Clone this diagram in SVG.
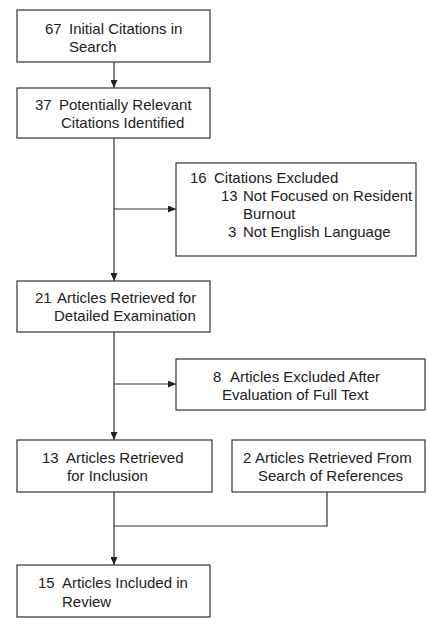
<svg xmlns="http://www.w3.org/2000/svg" width="427" height="628" viewBox="0 0 427 628">
<style>
.box{fill:#fff;stroke:#333;stroke-width:1.2}
.t{font-family:"Liberation Sans",Arial,sans-serif;font-size:15px;fill:#222}
.c{fill:none;stroke:#333;stroke-width:1.2}
</style>
<defs>
<marker id="ah" viewBox="0 0 10 10" refX="10" refY="5" markerWidth="8" markerHeight="7" markerUnits="userSpaceOnUse" orient="auto" preserveAspectRatio="none">
<path d="M0,0 L10,5 L0,10 z" fill="#222"/>
</marker>
</defs>
<rect width="427" height="628" fill="#fff"/>
<g id="connectors">
<path class="c" d="M114,62 V88" marker-end="url(#ah)"/>
<path class="c" d="M114,138 V281" marker-end="url(#ah)"/>
<path class="c" d="M114,209 H176" marker-end="url(#ah)"/>
<path class="c" d="M114,332 V440" marker-end="url(#ah)"/>
<path class="c" d="M114,384 H176" marker-end="url(#ah)"/>
<path class="c" d="M114,492 V565" marker-end="url(#ah)"/>
<path class="c" d="M327,492 V526 H114"/>
</g>
<g id="n1">
<rect class="box" x="17" y="10" width="193" height="52"/>
<text class="t"><tspan x="45" y="34">67</tspan><tspan x="69" y="34">Initial Citations in</tspan><tspan x="69" y="52">Search</tspan></text>
</g>
<g id="n2">
<rect class="box" x="17" y="88" width="193" height="50"/>
<text class="t"><tspan x="35" y="110">37</tspan><tspan x="59" y="110">Potentially Relevant</tspan><tspan x="61" y="128">Citations Identified</tspan></text>
</g>
<g id="n3">
<rect class="box" x="176" y="163" width="240" height="93"/>
<text class="t"><tspan x="190" y="183">16</tspan><tspan x="214" y="183">Citations Excluded</tspan><tspan x="221" y="201">13</tspan><tspan x="243" y="201">Not Focused on Resident</tspan><tspan x="243" y="219">Burnout</tspan><tspan x="228" y="237">3</tspan><tspan x="243" y="237">Not English Language</tspan></text>
</g>
<g id="n4">
<rect class="box" x="17" y="281" width="193" height="51"/>
<text class="t"><tspan x="35" y="303">21</tspan><tspan x="57" y="303">Articles Retrieved for</tspan><tspan x="54" y="321">Detailed Examination</tspan></text>
</g>
<g id="n5">
<rect class="box" x="176" y="359" width="249" height="51"/>
<text class="t"><tspan x="213" y="382">8</tspan><tspan x="230" y="382">Articles Excluded After</tspan><tspan x="222" y="400">Evaluation of Full Text</tspan></text>
</g>
<g id="n6">
<rect class="box" x="17" y="440" width="195" height="52"/>
<text class="t"><tspan x="42" y="463">13</tspan><tspan x="66" y="463">Articles Retrieved</tspan><tspan x="67" y="481">for Inclusion</tspan></text>
</g>
<g id="n7">
<rect class="box" x="232" y="440" width="193" height="52"/>
<text class="t"><tspan x="243" y="463">2</tspan><tspan x="255" y="463">Articles Retrieved From</tspan><tspan x="258" y="481">Search of References</tspan></text>
</g>
<g id="n8">
<rect class="box" x="17" y="565" width="193" height="52"/>
<text class="t"><tspan x="38" y="588">15</tspan><tspan x="62" y="588">Articles Included in</tspan><tspan x="62" y="607">Review</tspan></text>
</g>
</svg>
